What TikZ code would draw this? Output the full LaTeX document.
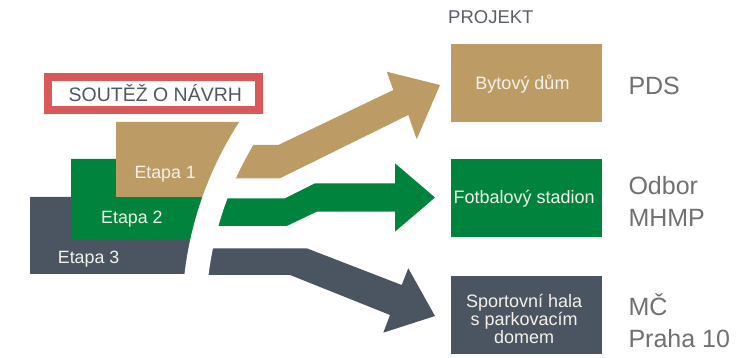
\documentclass[tikz,border=0pt]{standalone}
\usepackage{fontspec}
\setmainfont{Liberation Sans}
\definecolor{tanc}{HTML}{BC9C64}
\definecolor{greenc}{HTML}{00843D}
\definecolor{grayc}{HTML}{4B5461}
\definecolor{redc}{HTML}{D9585A}
\definecolor{lblc}{HTML}{707070}
\definecolor{headc}{HTML}{5A5F66}
\definecolor{compc}{HTML}{4E5864}
\definecolor{lightc}{HTML}{F4F1EA}
\begin{document}
\begin{tikzpicture}[x=1pt,y=-1pt,
  pbox/.style={rectangle, minimum width=151, minimum height=77.7, inner sep=0},
  boxtxt/.style={inner sep=0, anchor=base, text=lightc, font=\fontsize{18}{18}\selectfont},
  etxt/.style={inner sep=0, anchor=base west, text=lightc, font=\fontsize{17.8}{17.8}\selectfont},
  owner/.style={inner sep=0, anchor=base west, text=lblc, align=left, font=\fontsize{25}{31.7}\selectfont},
  gapband/.style={white, line width=24}]
\useasboundingbox (0,0) rectangle (748,358);
% stage blocks
\fill[grayc] (30,197) -- (202.5,197) -- (202.5,240) -- (196.6,274) -- (30,274) -- cycle;
\fill[greenc] (71,159) -- (215.2,159) -- (215.2,197) -- (202.5,240) -- (71,240) -- cycle;
\fill[tanc] (116,122) -- (253.7,122) -- (215.2,197) -- (116,197) -- cycle;
% arrows
\fill[tanc] (239.4,145) -- (278.3,145) -- (393.3,90) -- (386.7,71.7) -- (440,85) -- (416.7,139.3) -- (408.3,115) -- (280,178.3) -- (222.7,178.3) -- cycle;
\fill[greenc] (214.7,198.3) -- (285,198.3) -- (315,183.3) -- (395,183.3) -- (395,163.3) -- (435,197.5) -- (395,231.7) -- (395,211.7) -- (316.7,211.7) -- (286.7,226) -- (205.9,226) -- cycle;
\fill[grayc] (200.7,248.3) -- (306.7,248.3) -- (401.7,285) -- (408.3,268.3) -- (435,316) -- (383.3,332.7) -- (390,315) -- (290,275) -- (196.4,275) -- cycle;
% curved gap
\coordinate (ctr) at (539,316);
\draw[gapband] ([shift={(178:345)}]ctr) arc[start angle=178, end angle=218, radius=345];
% competition box
\node[draw=redc, line width=7.5, fill=white, minimum width=211.2, minimum height=33.2, inner sep=0] (comp) at (153.35,93.65) {};
\node[inner sep=0, anchor=base, text=compc, font=\fontsize{19.5}{19.5}\selectfont] (compt) at (155.3,101.7) {SOUTĚŽ O NÁVRH};
% stage labels
\node[etxt] (e1) at (134.3,178.3) {Etapa 1};
\node[etxt] (e2) at (101,223.3) {Etapa 2};
\node[etxt] (e3) at (57.7,263.3) {Etapa 3};
% project boxes
\node[inner sep=0, anchor=base west, text=headc, font=\fontsize{18.5}{18.5}\selectfont] (proj) at (448,23.3) {PROJEKT};
\node[pbox, fill=tanc] (p1) at (526.2,82.9) {};
\node[pbox, fill=greenc] (p2) at (526.2,198.3) {};
\node[pbox, fill=grayc] (p3) at (526.2,314.7) {};
\node[boxtxt] (p1t) at (522.5,89.3) {Bytový dům};
\node[boxtxt] (p2t) at (524.2,204) {Fotbalový stadion};
\node[boxtxt, align=center, font=\fontsize{18}{18}\selectfont] (p3t) at (524.2,344) {Sportovní hala\\s parkovacím\\domem};
% owners
\node[owner] (o1) at (628.3,95) {PDS};
\node[owner] (o2) at (628.3,226.7) {Odbor\\MHMP};
\node[owner] (o3) at (628.3,347.7) {MČ\\Praha 10};
\end{tikzpicture}
\end{document}
